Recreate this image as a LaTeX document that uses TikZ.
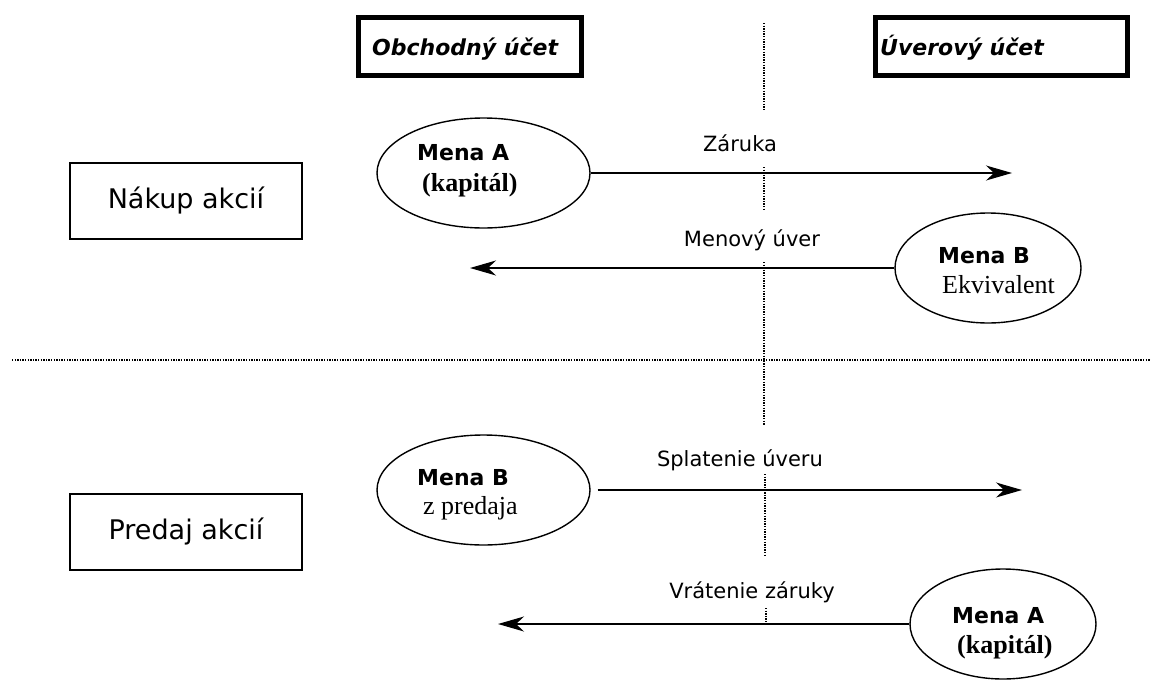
\documentclass[tikz,border=0pt]{standalone}
\usepackage{fontspec}
\setmainfont{DejaVu Sans}
\newfontfamily\tms{Liberation Serif}
\usetikzlibrary{shapes.geometric,arrows.meta}
\tikzset{
  ell/.style={draw,ellipse,line width=1.4pt,inner sep=0pt},
  conn/.style={line width=1.4pt,-{Stealth[length=26pt,width=15pt,inset=8pt]}},
  dots/.style={line width=1.3pt,dash pattern=on 1.3pt off 1.3pt},
  headbox/.style={draw,line width=5pt,inner sep=0pt},
  sidebox/.style={draw,line width=1.6pt,inner sep=0pt,minimum width=232pt,minimum height=76pt,font=\fontsize{27}{31}\selectfont},
  lbl/.style={font=\fontsize{21}{24}\selectfont,inner sep=0pt},
  headtxt/.style={font=\fontsize{22}{25}\selectfont\bfseries\itshape,anchor=base west,inner sep=0pt},
  bold/.style={font=\fontsize{22}{25}\selectfont\bfseries,anchor=base west,inner sep=0pt},
  tmsb/.style={font=\fontsize{26}{29}\selectfont\tms\bfseries,anchor=base west,inner sep=0pt},
  tmsr/.style={font=\fontsize{26}{29}\selectfont\tms,anchor=base west,inner sep=0pt}
}
\begin{document}
\begin{tikzpicture}[x=1pt,y=-1pt]
\useasboundingbox (0,0) rectangle (1151,680);
% header boxes
\node[headbox,minimum width=223pt,minimum height=58pt] (hb1) at (470,46.5) {};
\node[headtxt] (ht1) at (372,55) {Obchodný účet};
\node[headbox,minimum width=252pt,minimum height=58pt] (hb2) at (1001.5,46.5) {};
\node[headtxt] (ht2) at (880,55) {Úverový účet};
% dotted lines
\draw[dots] (764,23) coordinate (v1a) -- (764,110) coordinate (v1b);
\draw[dots] (764,167) coordinate (v2a) -- (764,210) coordinate (v2b);
\draw[dots] (764,262) coordinate (v3a) -- (764,425) coordinate (v3b);
\draw[dots] (765,474) coordinate (v4a) -- (765,556) coordinate (v4b);
\draw[dots] (766,608) coordinate (v5a) -- (766,626) coordinate (v5b);
\draw[dots] (12,360) coordinate (h1) -- (1151,360) coordinate (h2);
% side boxes
\node[sidebox] (nak) at (186,201) {Nákup akcií};
\node[sidebox] (pre) at (186,532) {Predaj akcií};
% ellipses
\node[ell,minimum width=213pt,minimum height=110pt] (e1) at (483.5,173) {};
\node[bold] (e1a) at (417,160) {Mena A};
\node[tmsb] (e1b) at (422,191) {(kapitál)};
\node[ell,minimum width=186pt,minimum height=110pt] (e2) at (988,268) {};
\node[bold] (e2a) at (938,263) {Mena B};
\node[tmsr] (e2b) at (942,293) {Ekvivalent};
\node[ell,minimum width=213pt,minimum height=110pt] (e3) at (483.5,490) {};
\node[bold] (e3a) at (417,485) {Mena B};
\node[tmsr] (e3b) at (423,514) {z predaja};
\node[ell,minimum width=186pt,minimum height=110pt] (e4) at (1003,624) {};
\node[bold] (e4a) at (952,623) {Mena A};
\node[tmsb] (e4b) at (957,653) {(kapitál)};
% connectors
\coordinate (t1) at (1012,173);
\coordinate (t2) at (470,268);
\coordinate (t3) at (1022,490);
\coordinate (t4) at (498,624);
\draw[conn] (e1.east) -- (t1);
\draw[conn] (e2.west) -- (t2);
\draw[conn] ([xshift=7pt]e3.east) -- (t3);
\draw[conn] (e4.west) -- (t4);
% labels
\node[lbl] (l1) at (740,143) {Záruka};
\node[lbl] (l2) at (752,240) {Menový úver};
\node[lbl] (l3) at (740,460) {Splatenie úveru};
\node[lbl] (l4) at (752,592) {Vrátenie záruky};
\end{tikzpicture}
\end{document}
